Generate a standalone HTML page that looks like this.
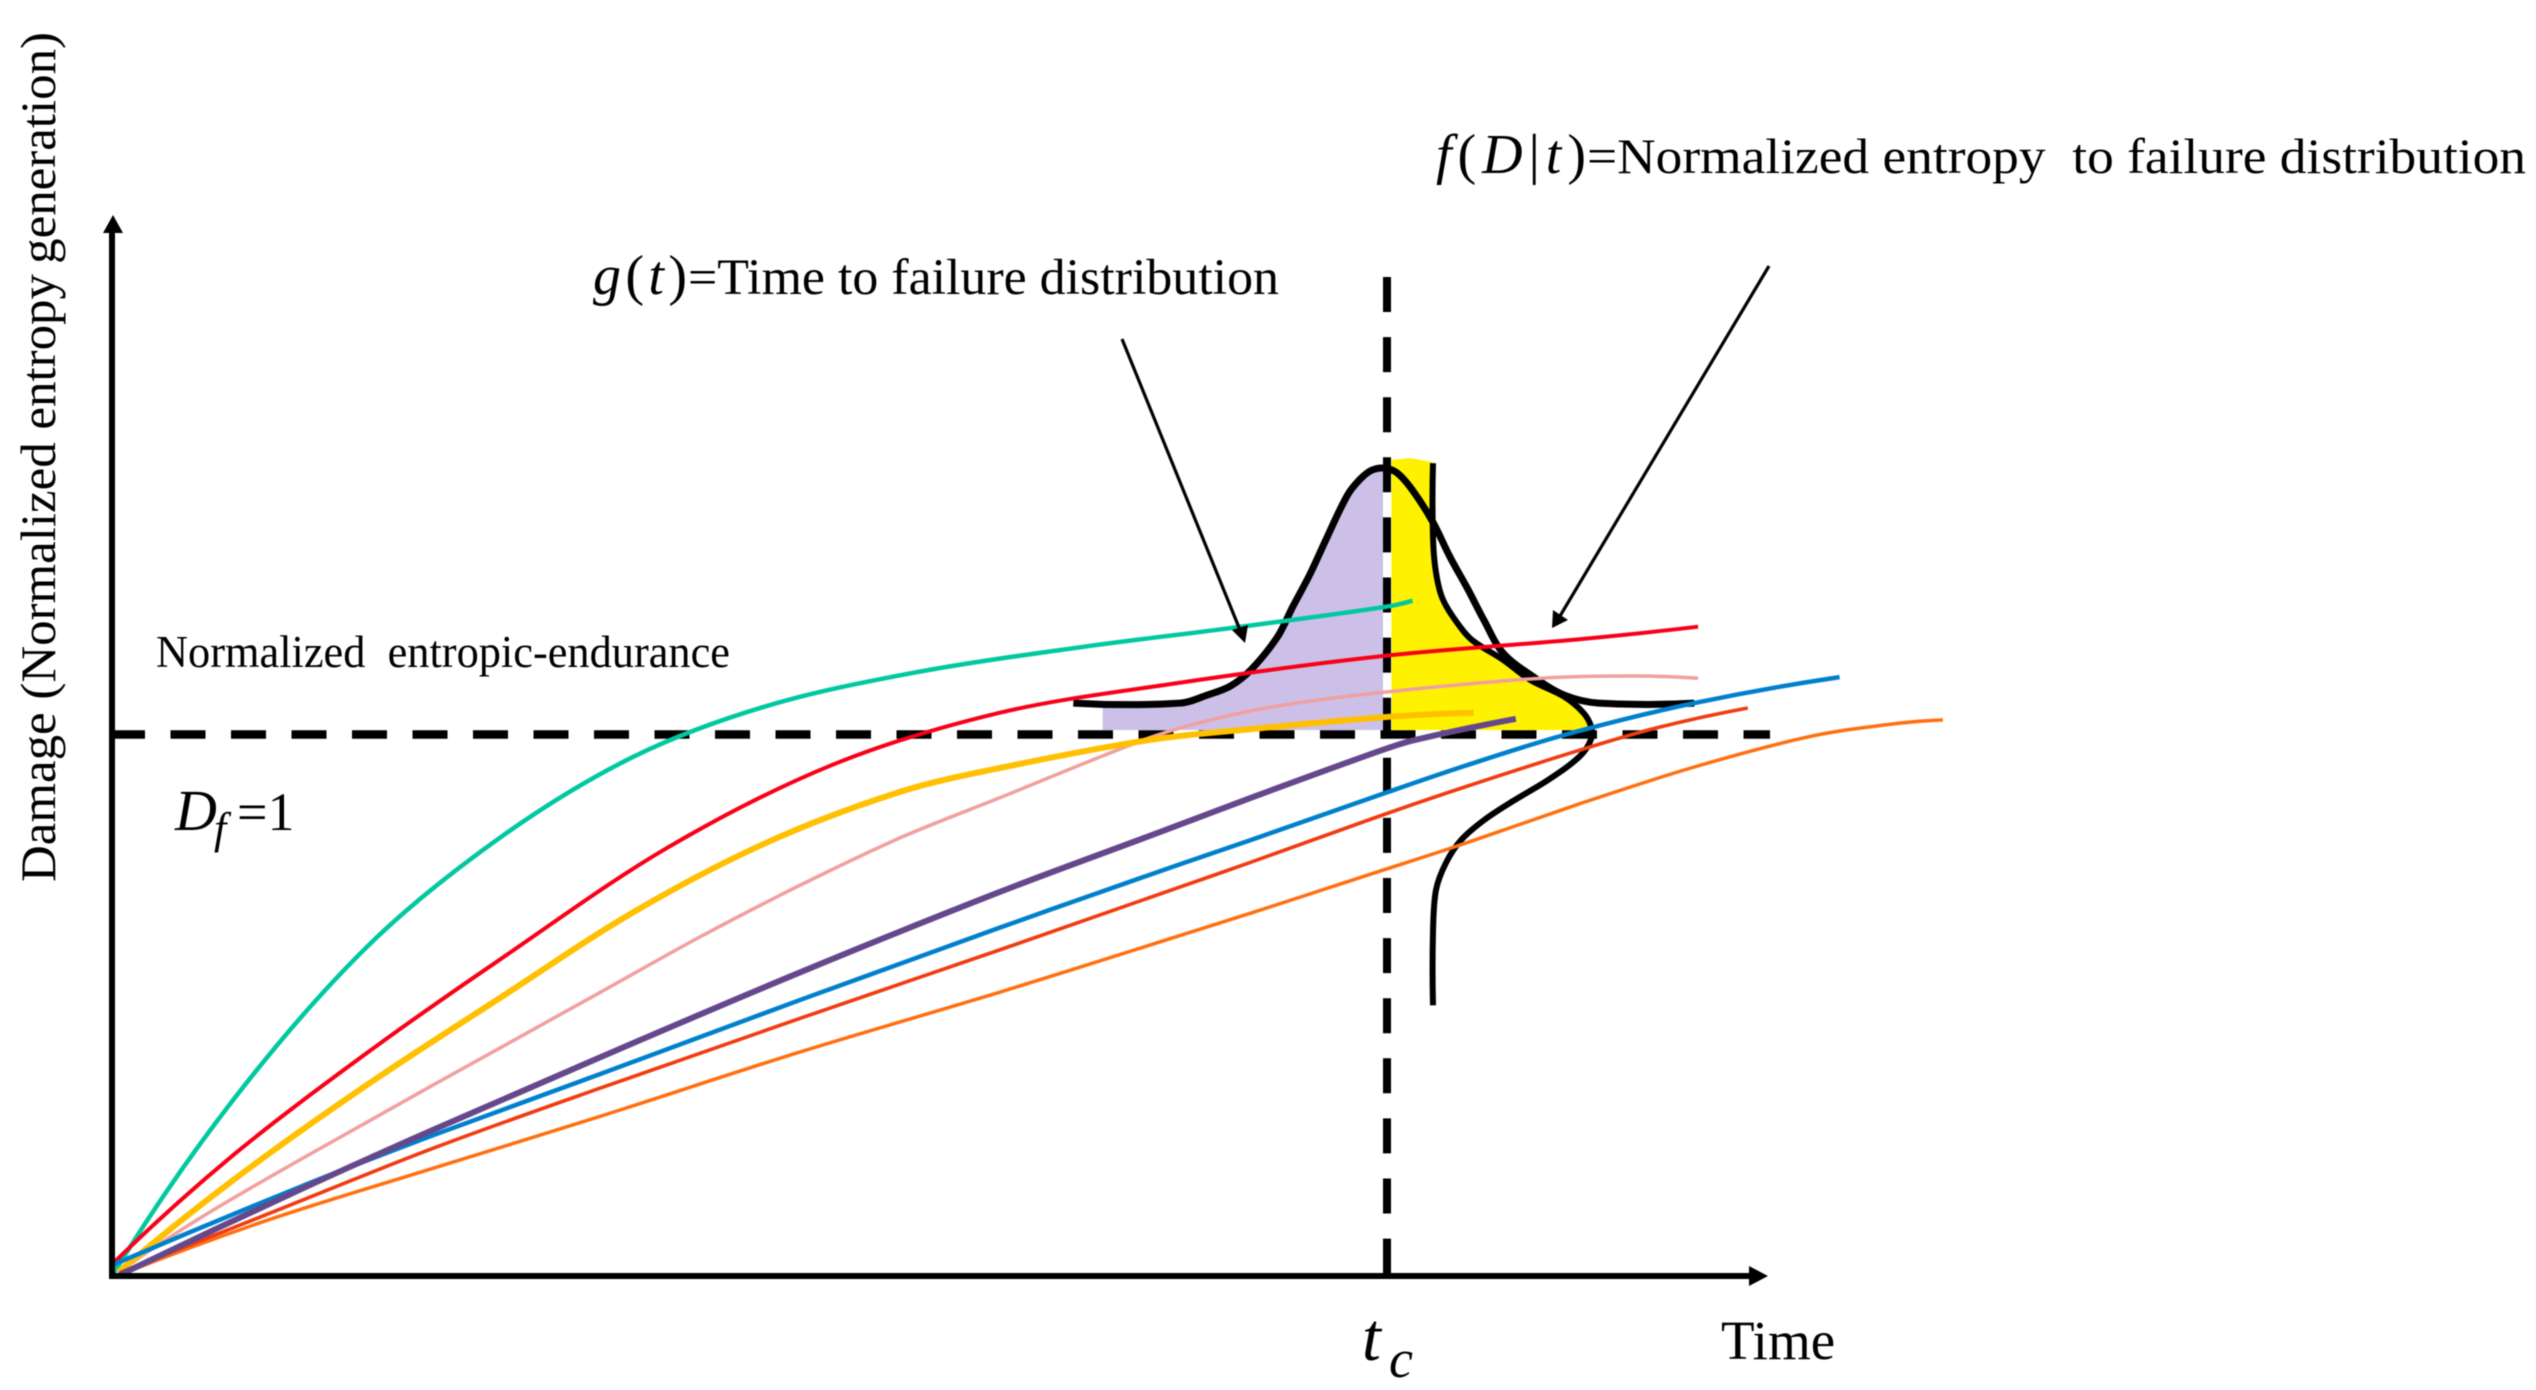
<!DOCTYPE html>
<html lang="en">
<head>
<meta charset="utf-8">
<title>Damage vs Time reliability chart</title>
<style>
html,body{margin:0;padding:0;background:#fff;}
body{width:2536px;height:1390px;overflow:hidden;}
svg{display:block;filter:blur(0.6px);}
text{font-family:"Liberation Serif",serif;fill:#000;white-space:pre;}
</style>
</head>
<body>
<svg id="chart" xmlns="http://www.w3.org/2000/svg" width="2536" height="1390" viewBox="0 0 2536 1390">
  <rect x="0" y="0" width="2536" height="1390" fill="#ffffff"/>
  <g id="fills"></g>
  <g id="guides"></g>
  <g id="dists"></g>
  <g id="series"></g>
  <g>
    <line x1="112" y1="1279" x2="112" y2="230" stroke="#000" stroke-width="6"/>
    <polygon points="113,215 103,233 123,233" fill="#000"/>
    <line x1="109" y1="1276" x2="1752" y2="1276" stroke="#000" stroke-width="6"/>
    <polygon points="1768,1276 1749,1266 1749,1286" fill="#000"/>
  </g>
  <g>
    <line x1="1122" y1="339" x2="1240" y2="630" stroke="#000" stroke-width="3.2"/>
    <polygon points="1245,643 1232,630 1248,625" fill="#000"/>
    <line x1="1769" y1="266" x2="1560" y2="616" stroke="#000" stroke-width="3.2"/>
    <polygon points="1552,628 1553,610 1568,620" fill="#000"/>
  </g>
  <g>
    <text transform="translate(55,882) rotate(-90)" font-size="50" textLength="850" lengthAdjust="spacingAndGlyphs">Damage (Normalized entropy&#8201;generation)</text>
    <text x="1721" y="1359" font-size="55">Time</text>
    <text x="1362" y="1360" font-size="68" font-style="italic">t</text>
    <text x="1389" y="1377" font-size="54" font-style="italic">c</text>
    <text x="156" y="667" font-size="45" textLength="574" lengthAdjust="spacingAndGlyphs">Normalized  entropic-endurance</text>
    <text x="175" y="830" font-size="58" font-style="italic">D</text>
    <text x="214" y="843" font-size="44" font-style="italic">f</text>
    <text x="237" y="830" font-size="54">=1</text>
    <text x="1436" y="173" font-size="56" textLength="150" lengthAdjust="spacing"><tspan font-style="italic">f</tspan>(<tspan font-style="italic">D</tspan>|<tspan font-style="italic">t</tspan>)</text>
    <text x="1587" y="173" font-size="50" textLength="939" lengthAdjust="spacingAndGlyphs">=Normalized entropy  to failure distribution</text>
    <text x="593" y="294" font-size="56" textLength="94" lengthAdjust="spacing"><tspan font-style="italic">g</tspan>(<tspan font-style="italic">t</tspan>)</text>
    <text x="688" y="294" font-size="51" textLength="591" lengthAdjust="spacingAndGlyphs">=Time to failure distribution</text>
  </g>
</svg>
<script>
/* Values: time t (critical time tc = 100), damage D (failure threshold = 1) */
const tealT = [0,9.5,20,30.4,40.9,51.4,63.1,76.2,87.9,99.7,102];
const tealD = [0,.325,.608,.809,.959,1.053,1.115,1.162,1.197,1.235,1.247];
const redT = [.2,9.5,20,30.4,43.5,56.5,69.6,83,99.7,115.1,124.4];
const redD = [.026,.223,.412,.584,.79,.944,1.04,1.093,1.145,1.176,1.199];
const amberT = [.5,9.5,20,30.4,40.9,51.4,61.8,69.6,81.4,89.3,99.7,106.8];
const amberD = [.007,.177,.353,.513,.672,.801,.894,.938,.99,1.01,1.032,1.04];
const pinkT = [.5,6.9,14.7,25.2,38.3,46.1,54,61.8,69.6,81.4,86.7,91.8,99.7,112.1,119.6,124.4];
const pinkD = [.007,.107,.214,.353,.524,.626,.722,.809,.883,.994,1.03,1.054,1.078,1.104,1.108,1.104];
const purpleT = [.6,14.7,25.2,38.3,54,69.6,81.4,89.3,99.7,102.2,110.1];
const purpleD = [.002,.159,.27,.404,.561,.709,.813,.883,.972,.99,1.029];
const blueT = [0,14.7,25.2,38.3,54,69.6,81.4,89.3,100.1,106.1,113.9,124.1,135.5];
const blueD = [.02,.164,.26,.373,.51,.643,.741,.805,.894,.942,.999,1.058,1.106];
const redOrangeT = [.6,12.6,25.2,38.3,54,69.6,81.4,89.3,100.1,106.1,115.1,121.1,128.3];
const redOrangeD = [.006,.118,.236,.347,.476,.602,.699,.764,.855,.903,.971,1.012,1.049];
const orangeT = [.6,12.2,25.2,38.3,54,69.6,81.4,89.3,100,105.5,115.1,124.1,133.1,139.1,143.6];
const orangeD = [.002,.103,.199,.295,.414,.524,.611,.67,.752,.794,.872,.94,.996,1.018,1.027];
/* g(t): density over time */
const gTime = [75.4,83.8,85.9,87.7,89.3,91.4,92.6,94,95.3,96.9,97.9,98.8,99.8,100.8,102,103.6,104.9,106.3,107.6,109.1,111.5,113.9,116.6,124.1];
const gDensity = [0,0,.034,.072,.14,.281,.409,.553,.706,.885,.953,.991,1,.979,.906,.77,.626,.489,.353,.213,.111,.034,0,0];
/* f(D|t): density over damage */
const fDamage = [1.501,1.365,1.299,1.249,1.199,1.173,1.138,1.101,1.07,1.041,1.015,.991,.96,.917,.875,.842,.805,.763,.713,.635,.5];
const fDensity = [0,0,.019,.063,.171,.253,.443,.614,.829,.949,1,1,.93,.734,.494,.323,.177,.082,.019,0,0];
const criticalTime = 100;
const failureDamage = 1;

const SVGNS = 'http://www.w3.org/2000/svg';
function xScale(t){ return 112 + t * 12.75; }
function yScale(d){ return 1276 - d * 541.5; }
function gY(den){ return yScale(1.058 + den * 0.434); }
function fX(den){ return 1433 + den * 158; }

/* non-uniform Catmull-Rom through the given points, with natural end tangents */
function smooth(pts){
  const n = pts.length;
  const dist = [];
  for (let i = 0; i < n - 1; i++) {
    dist.push(Math.hypot(pts[i + 1][0] - pts[i][0], pts[i + 1][1] - pts[i][1]) || 1);
  }
  const tan = pts.map(function(p, i){
    if (i === 0 || i === n - 1) return null;
    const s = dist[i] + dist[i - 1];
    return [(pts[i + 1][0] - pts[i - 1][0]) / s, (pts[i + 1][1] - pts[i - 1][1]) / s];
  });
  const c0 = [(pts[1][0] - pts[0][0]) / dist[0], (pts[1][1] - pts[0][1]) / dist[0]];
  const c1 = [(pts[n - 1][0] - pts[n - 2][0]) / dist[n - 2], (pts[n - 1][1] - pts[n - 2][1]) / dist[n - 2]];
  tan[0] = n > 2 ? [2 * c0[0] - tan[1][0], 2 * c0[1] - tan[1][1]] : c0;
  tan[n - 1] = n > 2 ? [2 * c1[0] - tan[n - 2][0], 2 * c1[1] - tan[n - 2][1]] : c1;
  let s = 'M' + pts[0][0].toFixed(1) + ',' + pts[0][1].toFixed(1);
  for (let i = 0; i < n - 1; i++) {
    const h = dist[i] / 3;
    const c1x = pts[i][0] + tan[i][0] * h, c1y = pts[i][1] + tan[i][1] * h;
    const c2x = pts[i + 1][0] - tan[i + 1][0] * h, c2y = pts[i + 1][1] - tan[i + 1][1] * h;
    s += 'C' + c1x.toFixed(1) + ',' + c1y.toFixed(1) + ' ' + c2x.toFixed(1) + ',' + c2y.toFixed(1) + ' ' + pts[i + 1][0].toFixed(1) + ',' + pts[i + 1][1].toFixed(1);
  }
  return s;
}
function makePath(parent, d, fill, stroke, width){
  const el = document.createElementNS(SVGNS, 'path');
  el.setAttribute('d', d);
  el.setAttribute('fill', fill);
  el.setAttribute('stroke', stroke);
  el.setAttribute('stroke-width', width);
  el.setAttribute('stroke-linejoin', 'round');
  document.getElementById(parent).appendChild(el);
  return el;
}
function seriesPath(tArr, dArr){
  return smooth(tArr.map(function(t, i){ return [xScale(t), yScale(dArr[i])]; }));
}

/* filled areas */
const gPts = gTime.map(function(t, i){ return [xScale(t), gY(gDensity[i])]; });
const gLeft = gPts.filter(function(p, i){ return gTime[i] >= 83.8 && gTime[i] <= criticalTime; });
const lavX = xScale(criticalTime) - 4;
const fillBottom = yScale(failureDamage) - 4.5;
const lavD = 'M' + xScale(77.7) + ',' + fillBottom + 'L' + xScale(77.7) + ',707L' + gLeft[0][0] + ',707' +
  smooth(gLeft).replace(/^M/, 'L') + 'L' + lavX + ',468L' + lavX + ',' + fillBottom + 'Z';
const lavenderEl = makePath('fills', lavD, '#ccc0e8', 'none', 0);



const fPts = fDamage.map(function(d, i){ return [fX(fDensity[i]), yScale(d)]; });
const fUpper = fPts.filter(function(p, i){ return fDamage[i] >= failureDamage; });
const yelX = xScale(criticalTime) + 4.5;
const yelD = 'M' + yelX + ',' + fillBottom + 'L' + yelX + ',460L1410,458L1432,462' +
  smooth(fUpper).replace(/^M/, 'L') + 'L1585,' + fillBottom + 'Z';
const yellowEl = makePath('fills', yelD, '#fff200', 'none', 0);



/* threshold guides */
const hGuide = makePath('guides', 'M110,' + yScale(failureDamage) + 'L1770,' + yScale(failureDamage), 'none', '#000', 8.5);
hGuide.setAttribute('stroke-dasharray', '35 25.5');


const vGuide = makePath('guides', 'M' + xScale(criticalTime) + ',277L' + xScale(criticalTime) + ',1276', 'none', '#000', 8);
vGuide.setAttribute('stroke-dasharray', '35 25.1');



/* distribution curves */
const gCurve = makePath('dists', smooth(gPts), 'none', '#000', 7);


const fCurve = makePath('dists', smooth(fPts), 'none', '#000', 6);



/* damage series */
const tealLine = makePath('series', seriesPath(tealT, tealD), 'none', '#00c8a0', 4.5);


const redLine = makePath('series', seriesPath(redT, redD), 'none', '#f80018', 4);


const pinkLine = makePath('series', seriesPath(pinkT, pinkD), 'none', '#f0a0a0', 3.5);


const amberLine = makePath('series', seriesPath(amberT, amberD), 'none', '#ffc000', 6);


const orangeLine = makePath('series', seriesPath(orangeT, orangeD), 'none', '#ff7010', 3.5);


const redOrangeLine = makePath('series', seriesPath(redOrangeT, redOrangeD), 'none', '#f03c10', 3.6);


const blueLine = makePath('series', seriesPath(blueT, blueD), 'none', '#0080cc', 4.5);


const purpleLine = makePath('series', seriesPath(purpleT, purpleD), 'none', '#65488c', 6);


</script>
</body>
</html>
